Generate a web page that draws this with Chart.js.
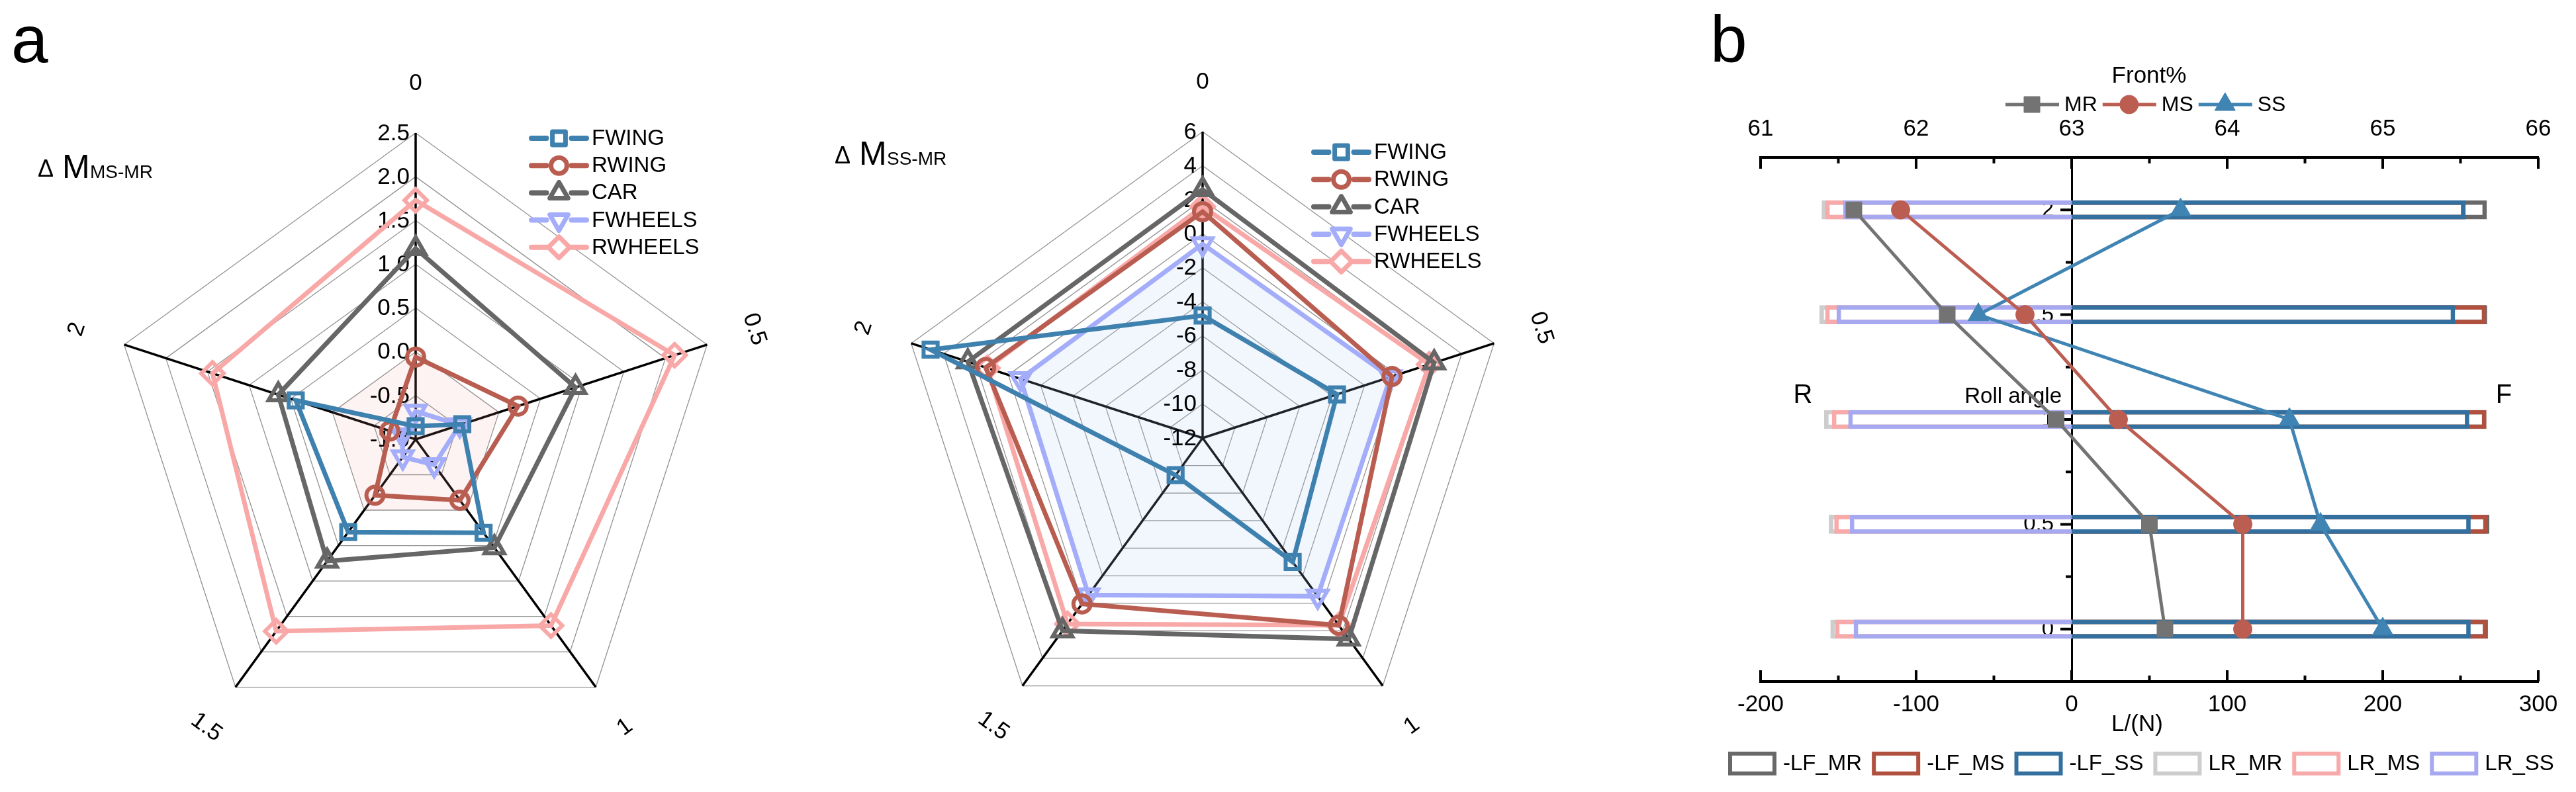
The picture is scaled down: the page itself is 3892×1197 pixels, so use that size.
<!DOCTYPE html>
<html>
<head>
<meta charset="utf-8">
<title>ΔM radar and lift balance vs roll angle</title>
<script src="https://cdn.jsdelivr.net/npm/chart.js@4.4.1/dist/chart.umd.min.js"></script>
<style>
  html, body { margin: 0; padding: 0; background: #fff; }
  #page { position: relative; width: 3892px; height: 1197px; overflow: hidden; }
  #page canvas { position: absolute; left: 0; top: 0; }
</style>
</head>
<body>
<div id="page">
  <canvas id="radarMS" width="3892" height="1197"></canvas>
  <canvas id="radarSS" width="3892" height="1197"></canvas>
  <canvas id="liftChart" width="3892" height="1197"></canvas>
</div>
<script>
const FONT = '"Liberation Sans", Arial, Helvetica, sans-serif';
Chart.defaults.font.family = FONT;
Chart.defaults.color = '#000';

// 雷达图的轴 (roll angle)
const rollLabels = ['0', '0.5', '1', '1.5', '2'];

// ΔM MS-MR
const msFwing   = [-0.85, -0.44, 0.32, 0.31, 0.44];
const msRwing   = [-0.06, 0.23, -0.14, -0.21, -0.69];
const msCar     = [1.18, 0.92, 0.53, 0.72, 0.65];
const msFwheels = [-0.68, -0.47, -0.64, -0.75, -0.84];
const msRwheels = [1.73, 2.11, 1.63, 1.71, 1.44];
const msZero    = [0, 0, 0, 0, 0];

// ΔM SS-MR
const ssFwing   = [-4.8, -3.7, -3.0, -9.3, 4.8];
const ssRwing   = [1.3, -0.3, 1.6, 0.05, 1.4];
const ssCar     = [2.6, 2.3, 2.6, 2.0, 2.5];
const ssFwheels = [-0.6, -0.4, -0.5, -0.6, -0.75];
const ssRwheels = [1.6, 2.0, 1.6, 1.5, 1.3];

// 图 b: 升力 L/(N) 与前轴比例 Front%
const rollAngles = [0, 0.5, 1, 1.5, 2];
const lfMR = [267.5, 268.4, 266.5, 267.0, 266.8];
const lfMS = [267.0, 267.3, 266.5, 266.4, 253.0];
const lfSS = [256.4, 256.4, 255.5, 246.4, 253.2];
const lrMR = [-155, -156, -159, -162, -160.6];
const lrMS = [-152, -152.5, -154, -158.3, -158.3];
const lrSS = [-140, -142.5, -143.5, -151, -146.8];
const frontMR = [63.6, 63.5, 62.9, 62.2, 61.6];
const frontMS = [64.1, 64.1, 63.3, 62.7, 61.9];
const frontSS = [65.0, 64.6, 64.4, 62.4, 63.7];

const cFwing = '#3E81AF', cRwing = '#B95D51', cCar = '#666666', cFwheels = '#A3ADF9', cRwheels = '#F9A8A8';

// 雷达图系列
function radarSeries(label, data, color, style, extra) {
    return Object.assign({
        label: label,
        data: data,
        borderColor: color,
        backgroundColor: 'rgba(0,0,0,0)',
        borderWidth: 7,
        pointStyle: style,
        pointRadius: 15,
        pointBorderWidth: 6,
        pointBorderColor: color,
        pointBackgroundColor: 'rgba(0,0,0,0)',
        fill: false
    }, extra || {});
}

// 图例: 线 + 标记
function drawLineLegend(ctx, datasets, L) {
    let y = L.y;
    datasets.forEach(ds => {
        if (ds.hideInLegend) return;
        const cx = L.x + L.lineLen / 2;
        ctx.save();
        ctx.strokeStyle = ds.borderColor;
        ctx.lineWidth = L.lineWidth;
        ctx.lineCap = 'round';
        ctx.beginPath();
        ctx.moveTo(L.x, y); ctx.lineTo(cx - L.gap, y);
        ctx.moveTo(cx + L.gap, y); ctx.lineTo(L.x + L.lineLen, y);
        ctx.stroke();
        ctx.lineCap = 'butt';
        ctx.lineJoin = 'round';
        ctx.lineWidth = L.markerBorder;
        ctx.fillStyle = '#fff';
        Chart.helpers.drawPoint(ctx, {
            pointStyle: ds.pointStyle, rotation: ds.pointRotation || 0,
            radius: ds.pointRadius - 1, borderWidth: L.markerBorder
        }, cx, y);
        ctx.fillStyle = '#000';
        ctx.font = L.font;
        ctx.textAlign = 'left';
        ctx.textBaseline = 'middle';
        ctx.fillText(ds.label, L.x + L.lineLen + L.textGap, y + 1);
        ctx.restore();
        y += L.step;
    });
}

function drawDeltaTitle(ctx, t) {
    ctx.save();
    ctx.fillStyle = '#000';
    ctx.textAlign = 'left';
    ctx.textBaseline = 'alphabetic';
    ctx.font = '36px ' + FONT;
    ctx.fillText('Δ', t.x, t.y - 2);
    ctx.font = '50px ' + FONT;
    ctx.fillText('M', t.x + 37, t.y);
    ctx.font = '28px ' + FONT;
    ctx.fillText(t.sub, t.x + 79, t.y);
    ctx.restore();
}

const radarDecor = {
    id: 'radarDecor',
    beforeDatasetsDraw(chart, args, o) {
        const r = chart.scales.r, ctx = chart.ctx;
        ctx.save();
        ctx.font = '35px ' + FONT;
        ctx.fillStyle = '#000';
        ctx.textAlign = 'right';
        ctx.textBaseline = 'middle';
        r.ticks.forEach(t => {
            const y = r.yCenter - r.getDistanceFromCenterForValue(t.value);
            ctx.fillText(t.value.toFixed(o.decimals), r.xCenter - 9, y + 1);
        });
        ctx.restore();
    },
    afterDraw(chart, args, o) {
        const r = chart.scales.r, ctx = chart.ctx;
        const n = chart.data.labels.length;
        ctx.save();
        ctx.fillStyle = '#000';
        ctx.font = '35px ' + FONT;
        ctx.textAlign = 'center';
        ctx.textBaseline = 'middle';
        chart.data.labels.forEach((lab, i) => {
            const p = r.getPointPosition(i, r.drawingArea + o.labelOffset);
            let deg = i * 360 / n;
            if (deg > 90 && deg < 270) deg -= 180;
            ctx.save();
            ctx.translate(p.x, p.y);
            ctx.rotate(deg * Math.PI / 180);
            ctx.fillText(lab, 0, 0);
            ctx.restore();
        });
        ctx.restore();
        drawDeltaTitle(ctx, o.title);
        drawLineLegend(ctx, chart.data.datasets, o.legend);
        if (o.letter) {
            ctx.save();
            ctx.fillStyle = '#000';
            ctx.font = '100px ' + FONT;
            ctx.textBaseline = 'alphabetic';
            ctx.fillText(o.letter.text, o.letter.x, o.letter.y);
            ctx.restore();
        }
    }
};

function radarOptions(min, max, step, padding, decor) {
    return {
        responsive: false,
        animation: false,
        events: [],
        layout: { padding: padding },
        scales: {
            r: {
                min: min, max: max,
                ticks: { stepSize: step, display: false },
                pointLabels: { display: false },
                grid: { color: '#939393', lineWidth: 1.3 },
                angleLines: { color: '#000', lineWidth: 3.5 }
            }
        },
        plugins: {
            legend: { display: false },
            tooltip: { enabled: false },
            filler: { drawTime: 'beforeDatasetsDraw' },
            radarDecor: decor
        }
    };
}

const legendStyle = { lineLen: 83, gap: 19, lineWidth: 8, markerBorder: 7, textGap: 8, font: '33px ' + FONT };

// 图 a 左: ΔM MS-MR
new Chart(document.getElementById('radarMS'), {
    type: 'radar',
    data: {
        labels: rollLabels,
        datasets: [
            radarSeries('FWING', msFwing, cFwing, 'rect', { pointRadius: 15 }),
            radarSeries('RWING', msRwing, cRwing, 'circle', { pointRadius: 13 }),
            radarSeries('CAR', msCar, cCar, 'triangle', { pointRadius: 17 }),
            radarSeries('FWHEELS', msFwheels, cFwheels, 'triangle', { pointRadius: 17, pointRotation: 180 }),
            radarSeries('RWHEELS', msRwheels, cRwheels, 'rectRot', { pointRadius: 17 }),
            { label: 'zero', data: msZero, hideInLegend: true, borderColor: 'rgba(0,0,0,0)',
              backgroundColor: 'rgba(235,165,155,0.13)', fill: 'start', pointRadius: 0, borderWidth: 1 }
        ]
    },
    options: radarOptions(-1, 2.5, 0.5, { left: 165, top: 201, right: 2801, bottom: 70 }, {
        decimals: 1, labelOffset: 75,
        title: { x: 57, y: 269, sub: 'MS-MR' },
        legend: Object.assign({ x: 803, y: 209, step: 41.2 }, legendStyle),
        letter: { text: 'a', x: 17, y: 94 }
    }),
    plugins: [radarDecor]
});

// 图 a 右: ΔM SS-MR
new Chart(document.getElementById('radarSS'), {
    type: 'radar',
    data: {
        labels: rollLabels,
        datasets: [
            radarSeries('FWING', ssFwing, cFwing, 'rect', { pointRadius: 15 }),
            radarSeries('RWING', ssRwing, cRwing, 'circle', { pointRadius: 13 }),
            radarSeries('CAR', ssCar, cCar, 'triangle', { pointRadius: 17 }),
            radarSeries('FWHEELS', ssFwheels, cFwheels, 'triangle', {
                pointRadius: 17, pointRotation: 180, fill: 'start', backgroundColor: 'rgba(175,200,245,0.17)' }),
            radarSeries('RWHEELS', ssRwheels, cRwheels, 'rectRot', { pointRadius: 17 })
        ]
    },
    options: radarOptions(-12, 6, 2, { left: 1354, top: 199, right: 1612, bottom: 72 }, {
        decimals: 0, labelOffset: 75,
        title: { x: 1261, y: 249, sub: 'SS-MR' },
        legend: Object.assign({ x: 1985, y: 230, step: 41.3 }, legendStyle),
        letter: null
    }),
    plugins: [radarDecor]
});

// 图 b
function lineSeries(label, vals, color, style, radius) {
    return {
        type: 'line', label: label, order: 0,
        xAxisID: 'x2', yAxisID: 'y',
        data: vals.map((v, i) => ({ x: v, y: rollAngles[i] })),
        borderColor: color, backgroundColor: color,
        borderWidth: 5, tension: 0, fill: false,
        pointStyle: style, pointRadius: radius,
        pointBackgroundColor: color, pointBorderColor: color, pointBorderWidth: 1
    };
}

function barSeries(label, vals, color, order) {
    return {
        type: 'bar', label: label, order: order,
        indexAxis: 'y', grouped: false,
        xAxisID: 'x', yAxisID: 'y',
        data: vals.map((v, i) => ({ x: v, y: rollAngles[i] })),
        borderColor: color, backgroundColor: 'rgba(0,0,0,0)',
        borderWidth: 6, barThickness: 28
    };
}

const liftDecor = {
    id: 'liftDecor',
    beforeDatasetsDraw(chart) {
        const { ctx, chartArea: ca } = chart;
        const { x, x2, y } = chart.scales;
        ctx.save();
        ctx.strokeStyle = '#000';
        ctx.lineWidth = 4;
        ctx.beginPath();
        x.ticks.forEach(t => {
            const px = x.getPixelForValue(t.value);
            ctx.moveTo(px, ca.bottom);
            ctx.lineTo(px, ca.bottom - (t.value % 100 === 0 ? 17 : 9));
        });
        x2.ticks.forEach(t => {
            const px = x2.getPixelForValue(t.value);
            ctx.moveTo(px, ca.top);
            ctx.lineTo(px, ca.top + (Number.isInteger(t.value) ? 17 : 9));
        });
        const x0 = x.getPixelForValue(0);
        ctx.font = '33px ' + FONT;
        ctx.fillStyle = '#000';
        ctx.textAlign = 'right';
        ctx.textBaseline = 'middle';
        y.ticks.forEach(t => {
            if (t.value <= y.min || t.value >= y.max) return;
            const py = y.getPixelForValue(t.value);
            const major = Math.abs(t.value * 2 - Math.round(t.value * 2)) < 1e-6;
            ctx.moveTo(x0, py);
            ctx.lineTo(x0 - (major ? 17 : 9), py);
            if (major) ctx.fillText(String(t.value), x0 - 27, py + 1);
        });
        ctx.stroke();
        ctx.font = '40px ' + FONT;
        ctx.textAlign = 'center';
        ctx.fillText('R', 2724, 598);
        ctx.fillText('F', 3783, 598);
        ctx.font = '33px ' + FONT;
        ctx.textAlign = 'right';
        ctx.fillText('Roll angle', 3115, 600);
        ctx.restore();
    },
    afterDraw(chart) {
        const ctx = chart.ctx;
        const ds = chart.data.datasets;
        ctx.save();
        ctx.fillStyle = '#000';
        ctx.textBaseline = 'middle';
        // 顶部图例 Front%
        ctx.font = '35px ' + FONT;
        ctx.textAlign = 'center';
        ctx.fillText('Front%', 3247, 115);
        ctx.font = '32px ' + FONT;
        ctx.textAlign = 'left';
        let lx = 3030;
        ds.filter(d => d.type === 'line').forEach(d => {
            const ly = 158;
            ctx.strokeStyle = d.borderColor;
            ctx.lineWidth = 5;
            ctx.beginPath();
            ctx.moveTo(lx, ly); ctx.lineTo(lx + 81, ly);
            ctx.stroke();
            ctx.fillStyle = d.borderColor;
            ctx.lineWidth = 1;
            Chart.helpers.drawPoint(ctx, { pointStyle: d.pointStyle, rotation: 0, radius: d.pointRadius, borderWidth: 1 }, lx + 40, ly);
            ctx.fillStyle = '#000';
            ctx.fillText(d.label, lx + 89, ly + 1);
            lx += 89 + ctx.measureText(d.label).width + 8;
        });
        // 底部图例
        ctx.font = '33px ' + FONT;
        let bx = 2611;
        ds.filter(d => d.type === 'bar').forEach(d => {
            ctx.strokeStyle = d.borderColor;
            ctx.lineWidth = 6;
            ctx.strokeRect(bx + 3, 1136 + 3, 67, 30);
            ctx.fillStyle = '#000';
            ctx.fillText(d.label, bx + 83, 1155);
            bx += 83 + ctx.measureText(d.label).width + 15;
        });
        ctx.font = '35px ' + FONT;
        ctx.textAlign = 'center';
        ctx.fillText('L/(N)', 3229, 1095);
        ctx.font = '100px ' + FONT;
        ctx.textAlign = 'left';
        ctx.textBaseline = 'alphabetic';
        ctx.fillText('b', 2584, 94);
        ctx.restore();
    }
};

new Chart(document.getElementById('liftChart'), {
    type: 'line',
    data: {
        datasets: [
            lineSeries('MR', frontMR, '#737373', 'rect', 17),
            lineSeries('MS', frontMS, '#BC5D51', 'circle', 14),
            lineSeries('SS', frontSS, '#3F84B3', 'triangle', 18),
            barSeries('-LF_MR', lfMR, '#686868', 3),
            barSeries('-LF_MS', lfMS, '#B0503F', 2),
            barSeries('-LF_SS', lfSS, '#33709F', 1),
            barSeries('LR_MR', lrMR, '#CDCDCD', 3),
            barSeries('LR_MS', lrMS, '#F8A9A9', 2),
            barSeries('LR_SS', lrSS, '#A7A9F0', 1)
        ]
    },
    options: {
        responsive: false,
        animation: false,
        events: [],
        layout: { padding: { left: 2660, right: 57, top: 158, bottom: 87 } },
        scales: {
            x: {
                type: 'linear', position: 'bottom', min: -200, max: 300, offset: false,
                ticks: { stepSize: 50, autoSkip: false, maxRotation: 0, padding: 14, font: { size: 35 },
                         callback: v => (v % 100 === 0 ? v : '') },
                grid: { display: false, drawTicks: false, offset: false },
                border: { color: '#000', width: 4 },
                afterFit: s => { s.height = 80; }
            },
            x2: {
                type: 'linear', axis: 'x', position: 'top', min: 61, max: 66, offset: false,
                ticks: { stepSize: 0.5, autoSkip: false, maxRotation: 0, padding: 22, font: { size: 35 },
                         callback: v => (Number.isInteger(v) ? v : '') },
                grid: { display: false, drawTicks: false, offset: false },
                border: { color: '#000', width: 4 },
                afterFit: s => { s.height = 80; }
            },
            y: {
                type: 'linear', position: { x: 0 }, min: -0.25, max: 2.25, offset: false,
                ticks: { stepSize: 0.25, display: false },
                grid: { display: false, drawTicks: false, offset: false },
                border: { color: '#000', width: 3 }
            }
        },
        plugins: { legend: { display: false }, tooltip: { enabled: false } }
    },
    plugins: [liftDecor]
});
</script>
</body>
</html>
